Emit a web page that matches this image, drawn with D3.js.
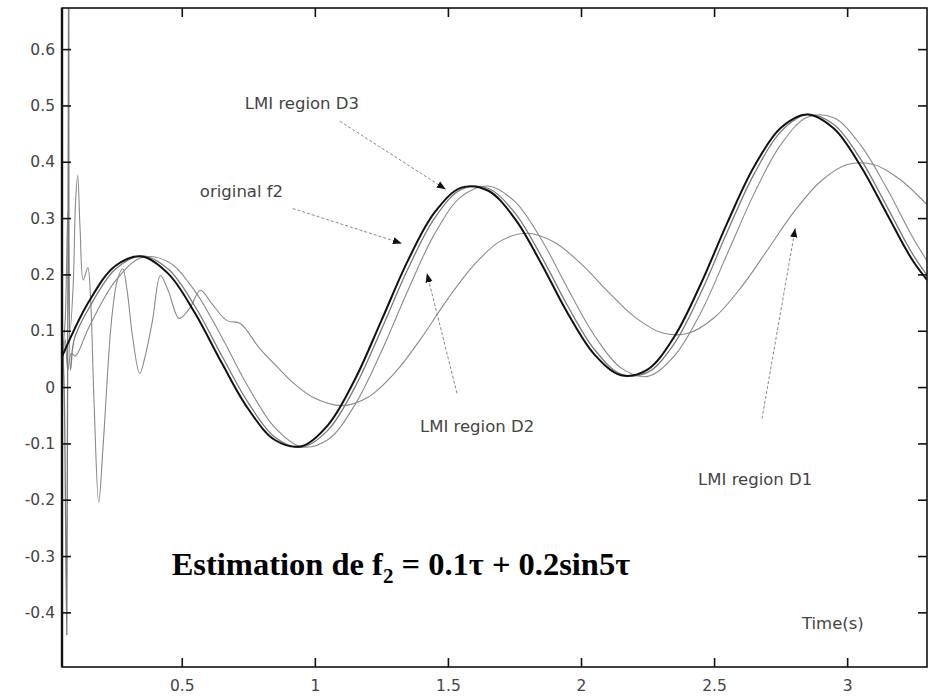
<!DOCTYPE html>
<html><head><meta charset="utf-8">
<script src="https://cdn.jsdelivr.net/npm/d3@7"></script>
<style>body{margin:0;background:#fff}</style>
</head><body><svg id="c" width="932" height="697"></svg>
<script>
// ---- data ----
const xTicks = [0.5, 1, 1.5, 2, 2.5, 3];
const yTicks = [-0.4, -0.3, -0.2, -0.1, 0, 0.1, 0.2, 0.3, 0.4, 0.5, 0.6];

const origT = [0.05,0.15,0.25,0.35,0.45,0.55,0.65,0.75,0.85,0.95,1.05,1.15,1.25,1.35,1.45,1.55,1.65,1.75,1.85,1.95,2.05,2.15,2.25,2.35,2.45,2.55,2.65,2.75,2.85,2.95,3.05,3.15,3.25,3.35];
const origV = [0.054,0.151,0.215,0.232,0.201,0.131,0.043,-0.039,-0.094,-0.105,-0.067,0.013,0.118,0.225,0.310,0.354,0.349,0.300,0.220,0.131,0.058,0.021,0.031,0.089,0.183,0.292,0.391,0.460,0.484,0.459,0.393,0.307,0.222,0.162];

const lmiD3T = [0.05,0.058,0.068,0.075,0.082,0.09,0.1,0.15,0.25,0.35,0.45,0.55,0.65,0.75,0.85,0.95,1.05,1.15,1.25,1.35,1.45,1.55,1.65,1.75,1.85,1.95,2.05,2.15,2.25,2.35,2.45,2.55,2.65,2.75,2.85,2.95,3.05,3.15,3.25,3.35];
const lmiD3V = [0.1,0.0,-0.44,0.75,0.03,0.07,0.091,0.139,0.209,0.233,0.209,0.143,0.056,-0.028,-0.089,-0.107,-0.076,-0.001,0.102,0.210,0.300,0.351,0.353,0.310,0.233,0.144,0.067,0.023,0.026,0.077,0.167,0.276,0.378,0.453,0.484,0.466,0.405,0.320,0.233,0.168];

const lmiD2T = [0.05,0.062,0.072,0.085,0.1,0.15,0.25,0.35,0.45,0.55,0.65,0.75,0.85,0.95,1.05,1.15,1.25,1.35,1.45,1.55,1.65,1.75,1.85,1.95,2.05,2.15,2.25,2.35,2.45,2.55,2.65,2.75,2.85,2.95,3.05,3.15,3.25,3.35];
const lmiD2V = [0.02,0.085,0.03,0.06,0.055,0.105,0.188,0.230,0.222,0.170,0.089,0.000,-0.072,-0.106,-0.093,-0.032,0.063,0.172,0.272,0.338,0.357,0.330,0.263,0.175,0.092,0.034,0.019,0.055,0.132,0.237,0.343,0.430,0.479,0.478,0.430,0.352,0.263,0.187];

const lmiD1T = [0.05,0.062,0.072,0.08,0.092,0.101,0.109,0.118,0.13,0.147,0.158,0.17,0.188,0.205,0.236,0.258,0.278,0.295,0.315,0.342,0.365,0.39,0.42,0.45,0.49,0.53,0.57,0.61,0.67,0.72,0.79,0.86,0.93,1.0,1.1,1.2,1.3,1.4,1.5,1.6,1.7,1.8,1.9,2.0,2.1,2.2,2.3,2.4,2.5,2.6,2.7,2.8,2.9,3.0,3.1,3.2,3.3,3.4];
const lmiD1V = [0.05,0.12,0.31,0.1,0.18,0.33,0.376,0.28,0.19,0.212,0.15,-0.02,-0.205,-0.1,0.118,0.19,0.21,0.17,0.09,0.024,0.06,0.118,0.198,0.17,0.122,0.14,0.172,0.15,0.118,0.113,0.07,0.035,0.003,-0.02,-0.033,-0.018,0.025,0.087,0.157,0.218,0.260,0.273,0.257,0.219,0.170,0.125,0.097,0.095,0.123,0.176,0.243,0.311,0.365,0.395,0.395,0.368,0.324,0.275];

// annotations (data coordinates)
const labels = [
  {text: "LMI region D3", t: 0.737, v: 0.493},
  {text: "original f2",   t: 0.568, v: 0.337},
  {text: "LMI region D2", t: 1.395, v: -0.079},
  {text: "LMI region D1", t: 2.44,  v: -0.173},
  {text: "Time(s)",       t: 2.83,  v: -0.429}
];
const arrows = [
  {t0: 1.094, v0: 0.472, t1: 1.492, v1: 0.351},
  {t0: 0.917, v0: 0.317, t1: 1.327, v1: 0.255},
  {t0: 1.534, v0: -0.011, t1: 1.421, v1: 0.202},
  {t0: 2.68,  v0: -0.056, t1: 2.805, v1: 0.282}
];

// ---- drawing ----
const svg = d3.select("#c");
const L = 62, R = 927, T = 8, B = 667;
const x = d3.scaleLinear().domain([0.05, 3.3]).range([L, R]);
const y = d3.scaleLinear().domain([-0.497, 0.673]).range([B, T]);

svg.append("defs").append("clipPath").attr("id", "clip")
  .append("rect").attr("x", L).attr("y", T).attr("width", R - L).attr("height", B - T);
svg.select("defs").append("marker").attr("id", "ah")
  .attr("viewBox", "0 0 10 10").attr("refX", 10).attr("refY", 5)
  .attr("markerWidth", 9).attr("markerHeight", 9).attr("markerUnits", "userSpaceOnUse")
  .attr("orient", "auto")
  .append("path").attr("d", "M0,1 L10,5 L0,9 Z").attr("fill", "#111");

const line = d3.line().x(d => x(d[0])).y(d => y(d[1])).curve(d3.curveCatmullRom.alpha(0.5));
const zip = (a, b) => a.map((t, i) => [t, b[i]]);

const g = svg.append("g").attr("clip-path", "url(#clip)");
const series = [
  {t: lmiD1T, v: lmiD1V, color: "#8a8a8a", w: 1.1},
  {t: lmiD2T, v: lmiD2V, color: "#8a8a8a", w: 1.1},
  {t: lmiD3T, v: lmiD3V, color: "#7a7a7a", w: 1.3},
  {t: origT,  v: origV,  color: "#111", w: 2.0}
];
series.forEach(s => {
  g.append("path").attr("d", line(zip(s.t, s.v)))
    .attr("fill", "none").attr("stroke", s.color).attr("stroke-width", s.w)
    .attr("stroke-linejoin", "round");
});

// axes (ticks inward)
const fmtY = d => d === 0 ? "0" : d.toFixed(1);
const axB = svg.append("g").attr("transform", `translate(0,${B})`)
  .call(d3.axisBottom(x).tickValues(xTicks).tickSize(-9).tickPadding(13).tickFormat(d => String(d)));
const axT = svg.append("g").attr("transform", `translate(0,${T})`)
  .call(d3.axisTop(x).tickValues(xTicks).tickSize(-9).tickFormat(""));
const axL = svg.append("g").attr("transform", `translate(${L},0)`)
  .call(d3.axisLeft(y).tickValues(yTicks).tickSize(-9).tickPadding(7).tickFormat(fmtY));
const axR = svg.append("g").attr("transform", `translate(${R},0)`)
  .call(d3.axisRight(y).tickValues(yTicks).tickSize(-9).tickFormat(""));
[axB, axT, axL, axR].forEach(a => {
  a.select(".domain").remove();
  a.selectAll(".tick line").attr("stroke", "#111").attr("stroke-width", 1.6);
  a.selectAll("text").attr("font-family", "DejaVu Sans").attr("font-size", 15.5).attr("fill", "#444");
});
svg.append("rect").attr("x", L).attr("y", T).attr("width", R - L).attr("height", B - T)
  .attr("fill", "none").attr("stroke", "#111").attr("stroke-width", 1.6);
svg.append("line").attr("x1", L).attr("x2", L).attr("y1", T).attr("y2", B)
  .attr("stroke", "#111").attr("stroke-width", 2.4);

// annotations
arrows.forEach(a => {
  svg.append("line").attr("x1", x(a.t0)).attr("y1", y(a.v0)).attr("x2", x(a.t1)).attr("y2", y(a.v1))
    .attr("stroke", "#888").attr("stroke-width", 1).attr("stroke-dasharray", "3,2")
    .attr("marker-end", "url(#ah)");
});
labels.forEach(l => {
  svg.append("text").attr("x", x(l.t)).attr("y", y(l.v)).text(l.text)
    .attr("font-family", "DejaVu Sans").attr("font-size", 16.5).attr("fill", "#444");
});

// title
const title = svg.append("text").attr("x", x(0.462)).attr("y", y(-0.334))
  .attr("font-family", "Liberation Serif").attr("font-weight", "bold").attr("font-size", 32.5).attr("fill", "#000");
title.append("tspan").text("Estimation de f");
title.append("tspan").text("2").attr("font-size", 21).attr("dy", 8);
title.append("tspan").text(" = 0.1\u03c4 + 0.2sin5\u03c4").attr("dy", -8);
</script>
</body></html>
